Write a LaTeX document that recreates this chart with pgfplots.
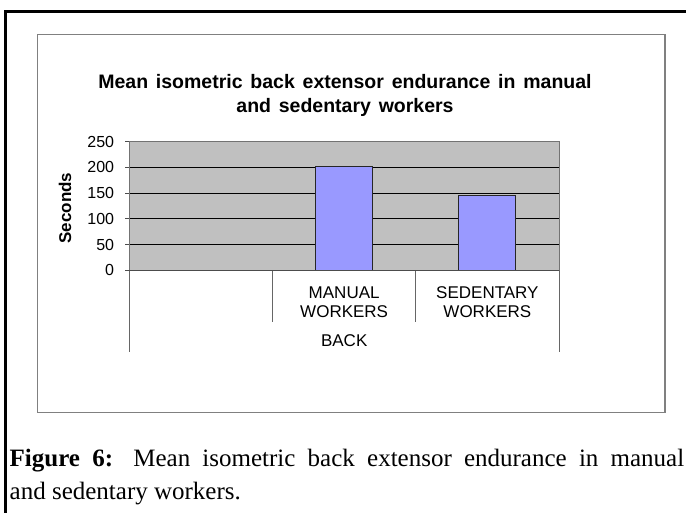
\documentclass[border=0pt]{standalone}
\usepackage{pgfplots}
\pgfplotsset{compat=1.18}
\usepackage{fontspec}
\setmainfont{Liberation Sans}
\newfontfamily\capfont{Liberation Serif}
\definecolor{plotgray}{HTML}{C0C0C0}
\definecolor{barblue}{HTML}{9999FF}
\definecolor{boxgray}{HTML}{808080}
\begin{document}
\begin{tikzpicture}[x=1pt,y=1pt]
\useasboundingbox (0,0) rectangle (686,513);
% outer frame
\draw[line width=2.5pt,black] (5.5,-10) -- (5.5,501.7) -- (700,501.7);
% inner chart box
\draw[line width=1.5pt,boxgray] (37.5,478.5) rectangle (665,100.5);
% title
\node[anchor=base,inner sep=0pt,font=\fontsize{19.5}{22}\selectfont\bfseries] at (345,424.7) {\spaceskip=0.4em plus 0.1em Mean isometric back extensor endurance in manual};
\node[anchor=base,inner sep=0pt,font=\fontsize{19.5}{22}\selectfont\bfseries] at (345,400.7) {\spaceskip=0.4em plus 0.1em and sedentary workers};
\begin{axis}[
  at={(129.3pt,242.7pt)}, anchor=south west,
  scale only axis, width=429.7pt, height=128.6pt,
  xmin=-0.5, xmax=2.5, ymin=0, ymax=250,
  ytick={0,50,100,150,200,250},
  ytick pos=left,
  xtick={0,1,2},
  xticklabels={{},{MANUAL\\WORKERS},{SEDENTARY\\WORKERS}},
  xtick style={draw=none},
  ytick style={draw=black!70, line width=0.8pt},
  tick align=outside, major tick length=4pt,
  ymajorgrids, major grid style={black, line width=0.9pt},
  axis line style={draw=black!55, line width=1pt},
  axis background/.style={fill=plotgray},
  /pgf/number format/assume math mode=true,
  yticklabel style={font=\fontsize{16}{18}\selectfont, anchor=east, inner sep=0pt, xshift=-11pt},
  xticklabel style={font=\fontsize{17}{18.5}\selectfont, align=center, inner sep=0pt, anchor=north, yshift=-12.5pt},
  clip=false,
  ybar, bar width=57pt,
]
\addplot[ybar, bar shift=0pt, fill=barblue, draw=black!85, line width=1pt] coordinates {(1,202) (2,145)};
\draw[black!60, line width=1pt] (axis cs:0.5,0) -- ([yshift=-51.4pt]axis cs:0.5,0);
\draw[black!60, line width=1pt] (axis cs:1.5,0) -- ([yshift=-51.4pt]axis cs:1.5,0);
\draw[black!60, line width=1pt] (axis cs:-0.5,0) -- ([yshift=-81.4pt]axis cs:-0.5,0);
\draw[black!60, line width=1pt] (axis cs:2.5,0) -- ([yshift=-81.4pt]axis cs:2.5,0);
\draw[black!70, line width=1pt] (axis cs:-0.5,0) -- (axis cs:2.5,0);
\end{axis}
% axis titles
\node[anchor=base,inner sep=0pt,font=\fontsize{17}{19}\selectfont] at (344.2,166.4) {BACK};
\node[rotate=90,inner sep=0pt,font=\fontsize{17}{19}\selectfont\bfseries] at (65,305) {Seconds};
% caption
\node[anchor=base west,inner sep=0pt,font=\capfont\fontsize{25}{33}\selectfont] at (9.5,46.3) {\makebox[674.5pt][s]{\textbf{Figure 6:} Mean isometric back extensor endurance in manual}};
\node[anchor=base west,inner sep=0pt,font=\capfont\fontsize{25}{33}\selectfont] at (9.5,13) {and sedentary workers.};
\end{tikzpicture}
\end{document}
